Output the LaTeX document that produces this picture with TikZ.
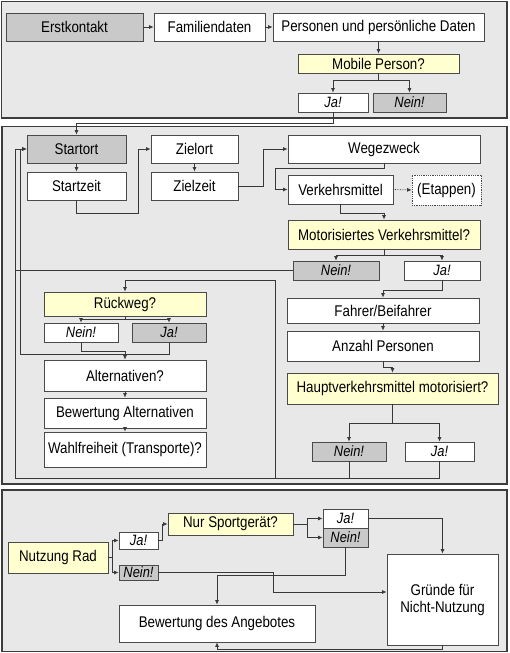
\documentclass[tikz,border=0pt]{standalone}
\usepackage{fontspec}
\setmainfont{Liberation Sans}[FakeStretch=0.86]
\usetikzlibrary{arrows.meta}
\definecolor{panelfill}{HTML}{E8E8E8}
\definecolor{framecol}{HTML}{3C3C3C}
\definecolor{boxline}{HTML}{4A4A4A}
\definecolor{greyfill}{HTML}{C9C9C9}
\definecolor{yellowfill}{HTML}{FFFFD0}
\definecolor{linecol}{HTML}{383838}
\tikzset{
  panel/.style={draw=framecol, line width=1.6pt, fill=panelfill},
  basebox/.style={draw=boxline, line width=0.8pt, inner sep=0pt, align=center,
    font=\fontsize{15.5}{17}\selectfont},
  wbox/.style={basebox, fill=white},
  gbox/.style={basebox, fill=greyfill},
  ybox/.style={basebox, fill=yellowfill},
  dbox/.style={basebox, fill=white, draw=boxline, densely dotted},
  ans/.style={font=\fontsize{15}{17}\selectfont\itshape},
  conn/.style={draw=linecol, line width=0.7pt},
  arr/.style={conn, -{Latex[length=4.5pt,width=4pt]}},
}
\begin{document}
\begin{tikzpicture}[x=1pt,y=-1pt]
\useasboundingbox (0,0) rectangle (509,653);
% panels
\draw[panel] (1.5,1.5) rectangle (507,118);
\draw[panel] (2,126.5) rectangle (507,484);
\draw[panel] (2,490) rectangle (507,651.5);

% ---------- top panel ----------
\node[gbox, minimum width=137pt, minimum height=28pt] (erst) at (74.5,27) {Erstkontakt};
\node[wbox, minimum width=111pt, minimum height=28pt] (fam) at (209.5,27) {Familiendaten};
\node[wbox, minimum width=211pt, minimum height=28pt] (pers) at (378.5,27) {Personen und persönliche Daten};
\node[ybox, minimum width=161pt, minimum height=19pt] (mob) at (378.5,63.5) {Mobile Person?};
\node[wbox, minimum width=70pt, minimum height=19pt, ans] (ja1) at (333,102.5) {Ja!};
\node[gbox, minimum width=73pt, minimum height=19pt, ans] (nein1) at (409.5,102.5) {Nein!};

\draw[arr] (erst) -- (fam);
\draw[arr] (fam) -- (pers);
\draw[arr] (pers.south) -- (mob.north);
\coordinate (m1) at (378.5,80);
\draw[conn] (mob.south) -- (m1);
\draw[arr] (m1) -| (ja1.north);
\draw[arr] (m1) -| (nein1.north);

% ---------- middle panel ----------
\node[gbox, minimum width=99pt, minimum height=28pt] (startort) at (76.5,149) {Startort};
\node[wbox, minimum width=99pt, minimum height=28pt] (startzeit) at (76.5,186) {Startzeit};
\node[wbox, minimum width=87pt, minimum height=28pt] (zielort) at (194.5,149) {Zielort};
\node[wbox, minimum width=87pt, minimum height=28pt] (zielzeit) at (194.5,186) {Zielzeit};
\node[wbox, minimum width=192pt, minimum height=28pt] (wege) at (384,149) {Wegezweck};
\node[wbox, minimum width=105pt, minimum height=29pt] (verk) at (340.5,189.5) {Verkehrsmittel};
\node[dbox, minimum width=69pt, minimum height=30pt] (etap) at (446.5,190) {(Etappen)};
\node[ybox, minimum width=192pt, minimum height=29pt] (motor) at (384,234.5) {Motorisiertes Verkehrsmittel?};
\node[gbox, minimum width=86pt, minimum height=19pt, ans] (nein2) at (336,270.5) {Nein!};
\node[wbox, minimum width=76pt, minimum height=19pt, ans] (ja2) at (442,270.5) {Ja!};

\node[ybox, minimum width=162pt, minimum height=24pt] (rueck) at (125,304) {Rückweg?};
\node[wbox, minimum width=74pt, minimum height=19pt, ans] (nein3) at (81,332.5) {Nein!};
\node[gbox, minimum width=74pt, minimum height=19pt, ans] (ja3) at (169,332.5) {Ja!};
\node[wbox, minimum width=162pt, minimum height=31pt] (alt) at (125,375.5) {Alternativen?};
\node[wbox, minimum width=162pt, minimum height=30pt] (bew) at (125,413) {Bewertung Alternativen};
\node[wbox, minimum width=162pt, minimum height=35pt] (wahl) at (125,449.5) {Wahlfreiheit (Transporte)?};

\node[wbox, minimum width=192pt, minimum height=25pt] (fahrer) at (383,310.5) {Fahrer/Beifahrer};
\node[wbox, minimum width=192pt, minimum height=30pt] (anzahl) at (383,346) {Anzahl Personen};
\node[ybox, minimum width=211pt, minimum height=31pt] (haupt) at (392.5,388.5) {Hauptverkehrsmittel motorisiert?};
\node[gbox, minimum width=74pt, minimum height=19pt, ans] (nein4) at (349,451.5) {Nein!};
\node[wbox, minimum width=69pt, minimum height=19pt, ans] (ja4) at (439.5,451.5) {Ja!};

% Ja! (mobile) -> Startort
\coordinate (j1) at (333,123);
\draw[arr] (ja1.south) -- (j1) -| (startort.north);

\draw[arr] (startort.south) -- (startzeit.north);
\coordinate (c1) at (138,213);
\draw[arr] (startzeit.south) |- (c1) |- (zielort.west);
\draw[arr] (zielort.south) -- (zielzeit.north);
\coordinate (c2) at (263,186);
\draw[arr] (zielzeit.east) -- (c2) |- (wege.west);
\coordinate (c3) at (275,168);
\draw[arr] (wege.south) |- (c3) |- (verk.west);
\draw[arr, densely dotted] (verk.east) -- (etap.west);
\coordinate (c4) at (340.5,213);
\draw[arr] (verk.south) -- (c4) -| (motor.north);
\coordinate (c5) at (384,255);
\draw[conn] (motor.south) -- (c5);
\draw[arr] (c5) -| (nein2.north);
\draw[arr] (c5) -| (ja2.north);

\coordinate (c7) at (442,290);
\draw[arr] (ja2.south) -- (c7) -| (fahrer.north);
\draw[arr] (fahrer.south) -- (anzahl.north);
\coordinate (c8) at (383,367);
\draw[arr] (anzahl.south) -- (c8) -| (haupt.north);
\coordinate (c9) at (392.5,423);
\draw[conn] (haupt.south) -- (c9);
\draw[arr] (c9) -| (nein4.north);
\draw[arr] (c9) -| (ja4.north);

% bottom loop
\coordinate (L1) at (15,478);
\coordinate (b275) at (275,478);
\coordinate (c6) at (275,280);
\draw[conn] (nein4.south) -- (nein4.south |- L1);
\draw[conn] (ja4.south) |- (L1);
\draw[arr] (L1) |- (startort.west);
\draw[conn] (nein2.west) -- (nein2.west -| L1);
\draw[arr] (b275) -- (c6) -| (rueck.north);

\coordinate (c10) at (125,319);
\draw[conn] (rueck.south) -- (c10);
\draw[arr] (c10) -| (nein3.north);
\draw[arr] (c10) -| (ja3.north);
\coordinate (c11) at (81,351);
\draw[arr] (nein3.south) -- (c11) -| (alt.north);
\coordinate (L2) at (20,354);
\draw[arr] (ja3.south) |- (L2) |- (startort.west);
\draw[arr] (alt.south) -- (bew.north);
\draw[arr] (bew.south) -- (wahl.north);

% ---------- bottom panel ----------
\node[ybox, minimum width=100pt, minimum height=31pt] (rad) at (58,557.5) {Nutzung Rad};
\node[wbox, minimum width=39pt, minimum height=17pt, ans] (ja5) at (138.5,540.5) {Ja!};
\node[gbox, minimum width=39pt, minimum height=15pt, ans] (nein5) at (138.5,572.5) {Nein!};
\node[ybox, minimum width=125pt, minimum height=22pt] (sport) at (230.5,524) {Nur Sportgerät?};
\node[wbox, minimum width=45pt, minimum height=19pt, ans] (ja6) at (345.5,518.5) {Ja!};
\node[gbox, minimum width=45pt, minimum height=19pt, ans] (nein6) at (345.5,537.5) {Nein!};
\node[wbox, minimum width=111pt, minimum height=91pt] (gruende) at (442.5,599.5) {Gründe für\\Nicht-Nutzung};
\node[wbox, minimum width=196pt, minimum height=37pt] (bewang) at (217,623.5) {Bewertung des Angebotes};

\coordinate (d1) at (112,557.5);
\draw[conn] (rad.east) -- (d1);
\draw[arr] (d1) |- (ja5.west);
\draw[arr] (d1) |- (nein5.west);
\coordinate (d2) at (162,540.5);
\draw[arr] (ja5.east) -- (d2) |- (sport.west);
\coordinate (d3) at (307,524);
\draw[conn] (sport.east) -- (d3);
\draw[arr] (d3) |- (ja6.west);
\draw[arr] (d3) |- (nein6.west);
\draw[arr] (ja6.east) -| (gruende.north);
\coordinate (d4) at (345.5,575);
\draw[arr] (nein6.south) -- (d4) -| (bewang.north);
\coordinate (d5) at (273,592);
\draw[arr] (nein5.east) -| (d5) -- (d5 -| gruende.west);
\coordinate (d6) at (442.5,649);
\draw[arr] (gruende.south) -- (d6) -| (bewang.south);
\end{tikzpicture}
\end{document}
